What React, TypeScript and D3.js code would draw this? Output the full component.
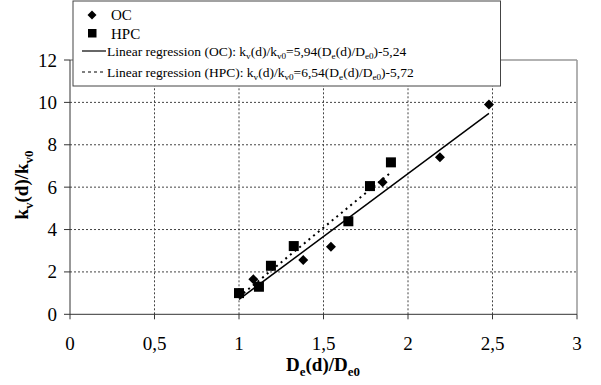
import React from "react";
import * as d3 from "d3";

const ocX = [1, 1.085, 1.38, 1.544, 1.85, 2.189, 2.479];
const ocY = [1, 1.65, 2.56, 3.19, 6.23, 7.41, 9.9];
const hpcX = [1, 1.118, 1.189, 1.324, 1.647, 1.775, 1.899];
const hpcY = [1, 1.3, 2.29, 3.22, 4.39, 6.05, 7.17];
const xTicks = [0, 0.5, 1, 1.5, 2, 2.5, 3];
const xTickLabels = ["0", "0,5", "1", "1,5", "2", "2,5", "3"];
const yTicks = [0, 2, 4, 6, 8, 10, 12];
const ocFit = { a: 5.94, b: -5.24, x0: 1, x1: 2.479 };
const hpcFit = { a: 6.54, b: -5.72, x0: 1, x1: 1.899 };

const W = 601, H = 385;
const FS = { fontFamily: '"Liberation Serif"' };

// segments: [text, isSubscript]
type Seg = [string, boolean];
const kvSegs: Seg[] = [["k", false], ["v", true], ["(d)/k", false], ["v0", true]];
const deSegs: Seg[] = [["D", false], ["e", true], ["(d)/D", false], ["e0", true]];

function Rich({ segs, size }: { segs: Seg[]; size: number }) {
  let prev = false;
  const shift = size * 0.28;
  return (
    <>
      {segs.map(([s, sub], i) => {
        const dy = sub === prev ? 0 : sub ? shift : -shift;
        prev = sub;
        return (
          <tspan key={i} dy={dy} fontSize={sub ? size * 0.68 : size} style={FS}>{s}</tspan>
        );
      })}
    </>
  );
}

function T(props: any) {
  const { children, ...rest } = props;
  return (
    <text {...rest} fontFamily="Liberation Serif" style={FS}>
      {typeof children === "string" || typeof children === "number"
        ? <tspan style={FS}>{children}</tspan>
        : children}
    </text>
  );
}

export default function App() {
  const x = d3.scaleLinear().domain([0, 3]).range([70, 577]);
  const y = d3.scaleLinear().domain([0, 12]).range([314.3, 60]);
  const line = d3.line<[number, number]>().x(d => x(d[0])).y(d => y(d[1]));
  const ocLine = line([[ocFit.x0, ocFit.a * ocFit.x0 + ocFit.b], [ocFit.x1, ocFit.a * ocFit.x1 + ocFit.b]]);
  const hpcLine = line([[hpcFit.x0, hpcFit.a * hpcFit.x0 + hpcFit.b], [hpcFit.x1, hpcFit.a * hpcFit.x1 + hpcFit.b]]);
  const diamond = (cx: number, cy: number, r: number) => `M${cx},${cy - r}L${cx + r},${cy}L${cx},${cy + r}L${cx - r},${cy}Z`;

  const ocLegend: Seg[] = [["Linear regression (OC): ", false], ...kvSegs, ["=5,94(", false], ...deSegs, [")-5,24", false]];
  const hpcLegend: Seg[] = [["Linear regression (HPC): ", false], ...kvSegs, ["=6,54(", false], ...deSegs, [")-5,72", false]];

  return (
    <svg width={W} height={H} style={{ position: "absolute", left: 0, top: 0, background: "#fff" }}>
      {/* grid */}
      {xTicks.slice(1, -1).map(t => (
        <line key={"gx" + t} x1={x(t)} x2={x(t)} y1={y(0)} y2={y(12)} stroke="#444" strokeDasharray="2 2" />
      ))}
      {yTicks.slice(1, -1).map(t => (
        <line key={"gy" + t} x1={x(0)} x2={x(3)} y1={y(t)} y2={y(t)} stroke="#444" strokeDasharray="2 2" />
      ))}
      {/* frame */}
      <line x1={x(0)} x2={x(3)} y1={y(12)} y2={y(12)} stroke="#999" strokeWidth={1.5} />
      <line x1={x(3)} x2={x(3)} y1={y(0)} y2={y(12)} stroke="#999" strokeWidth={1.5} />
      <line x1={x(0)} x2={x(3)} y1={y(0)} y2={y(0)} stroke="#333" strokeWidth={1} />
      <line x1={x(0)} x2={x(0)} y1={y(0)} y2={y(12)} stroke="#333" strokeWidth={1} />
      {/* ticks */}
      {yTicks.map(t => (
        <g key={"yt" + t}>
          <line x1={x(0) - 6} x2={x(0)} y1={y(t)} y2={y(t)} stroke="#333" />
          <T x={57} y={y(t) + 6.5} textAnchor="end" fontSize={19}>{String(t)}</T>
        </g>
      ))}
      {xTicks.map((t, i) => (
        <g key={"xt" + t}>
          <line x1={x(t)} x2={x(t)} y1={y(0)} y2={y(0) + 5} stroke="#333" />
          <T x={x(t)} y={350} textAnchor="middle" fontSize={19}>{xTickLabels[i]}</T>
        </g>
      ))}
      {/* axis titles */}
      <T x={323} y={371} textAnchor="middle" fontSize={19} fontWeight="bold">
        <Rich segs={deSegs} size={19} />
      </T>
      <T transform="translate(28,185) rotate(-90)" textAnchor="middle" fontSize={19} fontWeight="bold">
        <Rich segs={kvSegs} size={19} />
      </T>
      {/* regression lines */}
      <path d={ocLine!} stroke="#000" strokeWidth={1.5} fill="none" />
      <path d={hpcLine!} stroke="#000" strokeWidth={2} strokeDasharray="2 4" fill="none" />
      {/* points */}
      {ocX.map((v, i) => (
        <path key={"oc" + i} d={diamond(x(v), y(ocY[i]), 5)} fill="#000" />
      ))}
      {hpcX.map((v, i) => (
        <rect key={"hpc" + i} x={x(v) - 5} y={y(hpcY[i]) - 5} width={10} height={10} fill="#000" />
      ))}
      {/* legend */}
      <rect x={73} y={1} width={427.5} height={85} fill="#fff" stroke="#444" strokeWidth={1} />
      <path d={diamond(92, 15, 4.5)} fill="#000" />
      <T x={111} y={20} fontSize={15}>OC</T>
      <rect x={88} y={29} width={8.5} height={8.5} fill="#000" />
      <T x={111} y={38.5} fontSize={15}>HPC</T>
      <line x1={82} x2={106} y1={51} y2={51} stroke="#000" strokeWidth={1.2} />
      <T x={107} y={55.5} fontSize={13.5}>
        <Rich segs={ocLegend} size={13.5} />
      </T>
      <line x1={82} x2={106} y1={72} y2={72} stroke="#000" strokeWidth={1.2} strokeDasharray="3 3" />
      <T x={107} y={76.5} fontSize={13.5}>
        <Rich segs={hpcLegend} size={13.5} />
      </T>
    </svg>
  );
}
